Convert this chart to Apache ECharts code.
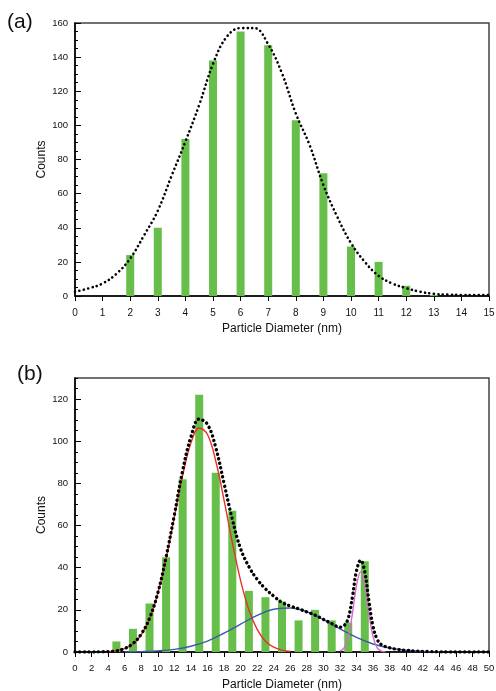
<!DOCTYPE html>
<html>
<head>
<meta charset="utf-8">
<script src="https://cdn.jsdelivr.net/npm/echarts@6/dist/echarts.min.js"></script>
<style>
html, body { margin: 0; padding: 0; background: #fff; }
#chart { width: 496px; height: 691px; }
</style>
</head>
<body>
<div id="chart"></div>
<script>
// panel (a): histogram + fitted curve
var diamA = [2, 3, 4, 5, 6, 7, 8, 9, 10, 11, 12, 13];
var countsA = [24, 40, 92, 138, 155, 147, 103, 72, 29, 20, 6, 0.6];
var fitXA = [0, 0.5, 1, 1.5, 2, 2.5, 3, 3.5, 4, 4.5, 5, 5.5, 6, 6.5, 7, 7.5, 8, 8.5, 9, 9.5, 10, 10.5, 11, 11.5, 12, 12.5, 13, 13.5, 14, 14.5, 15];
var fitYA = [2.5, 4.5, 7.3, 13, 22, 35.5, 50, 70.5, 90.5, 112, 136, 152, 157, 157, 147.5, 130.5, 107, 88.5, 65, 46.5, 31, 20, 11.8, 7.3, 4.6, 2.5, 1.3, 0.8, 0.6, 0.5, 0.5];

// panel (b): histogram + three components + total fit
var diamB = [5, 7, 9, 11, 13, 15, 17, 19, 21, 23, 25, 27, 29, 31, 33, 35];
var countsB = [5, 11, 23, 45, 82, 122, 85, 67, 29, 26, 24, 15, 20, 15, 14, 43];
var redX = [4, 5, 6, 7, 8, 9, 10, 11, 12, 13, 14, 15, 16, 17, 18, 19, 20, 21, 22, 23, 24, 25, 26];
var redY = [0.2, 0.6, 1.6, 3.8, 8.1, 15.8, 27.8, 44.3, 64.0, 83.7, 99.1, 106.3, 103.2, 90.6, 72.1, 52.0, 33.9, 20.0, 10.7, 5.1, 2.3, 0.9, 0.3];
var blueX = [6, 8, 10, 12, 14, 16, 18, 20, 22, 24, 26, 28, 30, 32, 34, 36, 38, 40, 42, 44];
var blueY = [0.06, 0.19, 0.52, 1.27, 2.75, 5.2, 8.9, 13.2, 17.4, 20.3, 20.9, 19.1, 15.4, 11.0, 6.9, 3.8, 1.9, 0.8, 0.3, 0.1];
var pinkX = [32, 32.5, 33, 33.5, 34, 34.5, 35, 35.5, 36, 36.5, 37, 37.5];
var pinkY = [0.4, 2.0, 7.2, 18.1, 31.6, 38, 31.6, 18.1, 7.2, 2.0, 0.4, 0.05];
var totX = [0, 1, 2, 3, 4, 5, 6, 7, 8, 9, 10, 11, 12, 13, 14, 15, 16, 17, 18, 19, 20, 21, 22, 23, 24, 25, 26, 27, 28, 29, 30, 31, 32, 32.5, 33, 33.5, 34, 34.5, 35, 35.5, 36, 36.5, 37, 38, 39, 40, 41, 42, 43, 44, 45, 46, 47, 48, 49, 50];
var totY = [0, 0, 0, 0.1, 0.2, 0.5, 1.7, 4, 8.5, 16, 28, 45, 65, 86, 102, 110.5, 108, 97, 80, 63, 49, 40.5, 34.5, 30, 26.5, 23.5, 21.8, 20.5, 19, 17.5, 15.5, 13.5, 11.8, 12.5, 16, 26, 38.5, 43.5, 38, 24, 12, 6, 3.5, 2, 1.2, 0.8, 0.5, 0.3, 0.2, 0.1, 0, 0, 0, 0, 0, 0];

var FONT = 'Liberation Sans';
var GREEN = '#68be4a';

function zip(xs, ys) {
	return xs.map(function (x, i) { return [x, ys[i]]; });
}

function xAxisFor(grid, max, interval, size, margin) {
	return {
		type: 'value', gridIndex: grid, min: 0, max: max, interval: interval,
		name: 'Particle Diameter (nm)', nameLocation: 'middle', nameGap: 27,
		nameTextStyle: { fontFamily: FONT, fontSize: 12, color: '#111' },
		axisLine: { lineStyle: { color: '#000', width: 1.6 } },
		axisTick: { inside: false, length: 5, lineStyle: { color: '#000' } },
		axisLabel: { fontFamily: FONT, fontSize: size, color: '#111', margin: margin },
		splitLine: { show: false }
	};
}

function yName() {
	return {
		name: 'Counts', nameLocation: 'middle', nameGap: 27, nameMoveOverlap: false,
		nameTextStyle: { fontFamily: FONT, fontSize: 12, color: '#111' }
	};
}

var option = {
	animation: false,
	backgroundColor: '#fff',
	title: [
		{ text: '(a)', left: 7, top: 12, padding: 0, textStyle: { fontFamily: FONT, fontSize: 21, fontWeight: 'normal', color: '#111' } },
		{ text: '(b)', left: 17, top: 364, padding: 0, textStyle: { fontFamily: FONT, fontSize: 21, fontWeight: 'normal', color: '#111' } }
	],
	grid: [
		{ left: 75, top: 23, width: 414, height: 273, show: true, borderColor: '#444', borderWidth: 1.5, outerBoundsMode: 'none' },
		{ left: 75, top: 378, width: 414, height: 274, show: true, borderColor: '#444', borderWidth: 1.5, outerBoundsMode: 'none' }
	],
	xAxis: [
		xAxisFor(0, 15, 1, 10, 12),
		xAxisFor(1, 50, 2, 9.5, 11)
	],
	yAxis: [
		Object.assign(yName(), {
			type: 'value', gridIndex: 0, min: 0, max: 160, interval: 20, position: 'left',
			axisLine: { show: true, lineStyle: { color: '#000', width: 1.6 } },
			axisTick: { inside: true, length: 6, lineStyle: { color: '#000' } },
			minorTick: { show: true, splitNumber: 4, length: 3, lineStyle: { color: '#000' } },
			axisLabel: { fontFamily: FONT, fontSize: 9.5, color: '#111', margin: 7 },
			splitLine: { show: false }
		}),
		Object.assign(yName(), {
			type: 'value', gridIndex: 1, min: 0, max: 130, interval: 20, position: 'left',
			axisLine: { show: true, lineStyle: { color: '#000', width: 1.6 } },
			axisTick: { inside: true, length: 6, lineStyle: { color: '#000' } },
			axisLabel: { fontFamily: FONT, fontSize: 9.5, color: '#111', margin: 7, showMaxLabel: false },
			splitLine: { show: false }
		}),
		{
			// minor ticks every 5 for panel (b)
			type: 'value', gridIndex: 1, min: 0, max: 130, interval: 5, position: 'left', offset: 0,
			axisLine: { show: false },
			axisTick: { inside: true, length: 3, lineStyle: { color: '#000' } },
			axisLabel: { show: false },
			splitLine: { show: false }
		}
	],
	series: [
		{
			type: 'bar', xAxisIndex: 0, yAxisIndex: 0, barWidth: 8,
			itemStyle: { color: GREEN }, data: zip(diamA, countsA)
		},
		{
			type: 'line', xAxisIndex: 0, yAxisIndex: 0, smooth: 0.4, symbol: 'none',
			lineStyle: { color: '#000', width: 2.6, type: [0.1, 4.4], cap: 'round' },
			data: zip(fitXA, fitYA), z: 5
		},
		{
			type: 'bar', xAxisIndex: 1, yAxisIndex: 1, barWidth: 8,
			itemStyle: { color: GREEN }, data: zip(diamB, countsB)
		},
		{
			type: 'line', xAxisIndex: 1, yAxisIndex: 1, smooth: 0.4, symbol: 'none',
			lineStyle: { color: '#e8312a', width: 1.4 }, data: zip(redX, redY), z: 3
		},
		{
			type: 'line', xAxisIndex: 1, yAxisIndex: 1, smooth: 0.4, symbol: 'none',
			lineStyle: { color: '#3b5ba8', width: 1.4 }, data: zip(blueX, blueY), z: 3
		},
		{
			type: 'line', xAxisIndex: 1, yAxisIndex: 1, smooth: 0.4, symbol: 'none',
			lineStyle: { color: '#d46ad0', width: 1.4 }, data: zip(pinkX, pinkY), z: 3
		},
		{
			type: 'line', xAxisIndex: 1, yAxisIndex: 1, smooth: 0.4, symbol: 'none',
			lineStyle: { color: '#000', width: 3.4, type: [0.1, 4.6], cap: 'round' },
			data: zip(totX, totY), z: 5
		}
	]
};

var chart = echarts.init(document.getElementById('chart'), null, { renderer: 'canvas' });
chart.setOption(option);
</script>
</body>
</html>
